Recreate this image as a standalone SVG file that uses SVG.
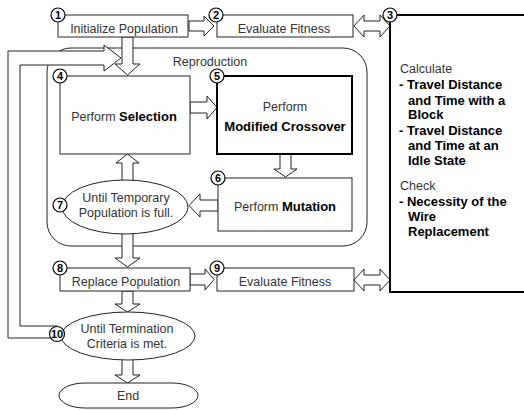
<svg xmlns="http://www.w3.org/2000/svg" width="524" height="410" viewBox="0 0 524 410">
<style>
.box{fill:#fff;stroke:#222;stroke-width:1}
.thick{fill:#fff;stroke:#000;stroke-width:2}
.arr{fill:#fff;stroke:#222;stroke-width:1;stroke-linejoin:miter}
.nc{fill:#fff;stroke:#000;stroke-width:1.2}
.nt{font-family:"Liberation Sans",Arial,sans-serif;font-size:11px;font-weight:bold;fill:#000;text-anchor:middle}
.t{font-family:"Liberation Sans",Arial,sans-serif;font-size:12.5px;fill:#333}
.c{text-anchor:middle}
.b{font-weight:bold;fill:#000;font-size:13px}
</style>
<rect width="524" height="410" fill="#fff"/>

<g id="reproduction">
  <rect x="47" y="48" width="320" height="198" rx="24" ry="24" fill="none" stroke="#222" stroke-width="1"/>
  <text class="t c" x="210" y="66">Reproduction</text>
</g>

<g id="connectors">
  <path class="arr" d="M57,338 L8,338 L8,51 L104,51 L104,45 L121,58 L104,71 L104,65 L20,65 L20,326 L57,326"/>
  <polygon class="arr" points="189,21 204,21 204,16 214,26 204,36 204,31 189,31"/>
  <polygon class="arr" points="354,26 364,15 364,21 380,21 380,15 390,26 380,37 380,31 364,31 364,37"/>
  <polygon class="arr" points="122,37 133,37 133,64 140,64 127.5,75 115,64 122,64"/>
  <polygon class="arr" points="190,102 207,102 207,96 217,107.5 207,119 207,113 190,113"/>
  <polygon class="arr" points="280,154 291,154 291,169 297,169 285.5,177 274,169 280,169"/>
  <polygon class="arr" points="218,200 200,200 200,194 189,205.5 200,217 200,211 218,211"/>
  <polygon class="arr" points="122,182 122,163 116,163 127.5,154 139,163 133,163 133,182"/>
  <polygon class="arr" points="122,232 133,232 133,258 140,258 127.5,267 115,258 122,258"/>
  <polygon class="arr" points="190,274 205,274 205,269 214,279.5 205,290 205,285 190,285"/>
  <polygon class="arr" points="354,280 364,269 364,275 380,275 380,269 390,280 380,291 380,285 364,285 364,291"/>
  <polygon class="arr" points="122,291 133,291 133,304 140,304 127.5,312 115,304 122,304"/>
  <polygon class="arr" points="122,358 133,358 133,375 140,375 127.5,383 115,375 122,375"/>
</g>

<g id="n1">
  <rect class="box" x="58" y="15" width="130" height="22"/>
  <text class="t c" x="124" y="33">Initialize Population</text>
  <circle class="nc" cx="58" cy="15" r="7"/><text class="nt" x="58" y="19">1</text>
</g>
<g id="n2">
  <rect class="box" x="217" y="15" width="136" height="22"/>
  <text class="t c" x="284" y="33">Evaluate Fitness</text>
  <circle class="nc" cx="216" cy="15" r="7"/><text class="nt" x="216" y="19">2</text>
</g>
<g id="n3">
  <path d="M390,15 L524,15 M390,15 L390,292 L524,292" fill="none" stroke="#000" stroke-width="2"/>
  <circle class="nc" cx="390" cy="15" r="7"/><text class="nt" x="390" y="19">3</text>
  <text class="t" x="400" y="73">Calculate</text>
  <text class="t b" x="399" y="89">- Travel Distance</text>
  <text class="t b" x="408" y="105">and Time with a</text>
  <text class="t b" x="408" y="119">Block</text>
  <text class="t b" x="399" y="135">- Travel Distance</text>
  <text class="t b" x="408" y="150">and Time at an</text>
  <text class="t b" x="408" y="165">Idle State</text>
  <text class="t" x="400" y="190">Check</text>
  <text class="t b" x="399" y="206">- Necessity of the</text>
  <text class="t b" x="408" y="221">Wire</text>
  <text class="t b" x="408" y="236">Replacement</text>
</g>
<g id="n4">
  <rect class="box" x="60" y="76" width="130" height="78"/>
  <text class="t c" x="124" y="121">Perform <tspan class="b">Selection</tspan></text>
  <circle class="nc" cx="60" cy="76" r="7"/><text class="nt" x="60" y="80">4</text>
</g>
<g id="n5">
  <rect class="thick" x="217" y="76" width="135" height="78"/>
  <text class="t c" x="285" y="111">Perform</text>
  <text class="t c b" x="285" y="131">Modified Crossover</text>
  <circle class="nc" cx="217" cy="76" r="7"/><text class="nt" x="217" y="80">5</text>
</g>
<g id="n6">
  <rect class="box" x="218" y="178" width="134" height="53"/>
  <text class="t c" x="285" y="211">Perform <tspan class="b">Mutation</tspan></text>
  <circle class="nc" cx="218" cy="178" r="7"/><text class="nt" x="218" y="182">6</text>
</g>
<g id="n7">
  <ellipse class="box" cx="125" cy="207" rx="63" ry="27"/>
  <text class="t c" x="126" y="202">Until Temporary</text>
  <text class="t c" x="126" y="217">Population is full.</text>
  <circle class="nc" cx="60" cy="205" r="7"/><text class="nt" x="60" y="209">7</text>
</g>
<g id="n8">
  <rect class="box" x="60" y="268" width="130" height="23"/>
  <text class="t c" x="126" y="286">Replace Population</text>
  <circle class="nc" cx="60" cy="268" r="7"/><text class="nt" x="60" y="272">8</text>
</g>
<g id="n9">
  <rect class="box" x="217" y="268" width="137" height="23"/>
  <text class="t c" x="285" y="286">Evaluate Fitness</text>
  <circle class="nc" cx="217" cy="268" r="7"/><text class="nt" x="217" y="272">9</text>
</g>
<g id="n10">
  <ellipse class="box" cx="128" cy="336" rx="67" ry="24"/>
  <text class="t c" x="127" y="333">Until Termination</text>
  <text class="t c" x="127" y="348">Criteria is met.</text>
  <circle class="nc" cx="57" cy="334" r="7.5"/><text class="nt" x="57" y="338">10</text>
</g>
<g id="end">
  <rect class="box" x="59" y="383" width="139" height="25" rx="26" ry="12.5"/>
  <text class="t c" x="128" y="400">End</text>
</g>
</svg>
